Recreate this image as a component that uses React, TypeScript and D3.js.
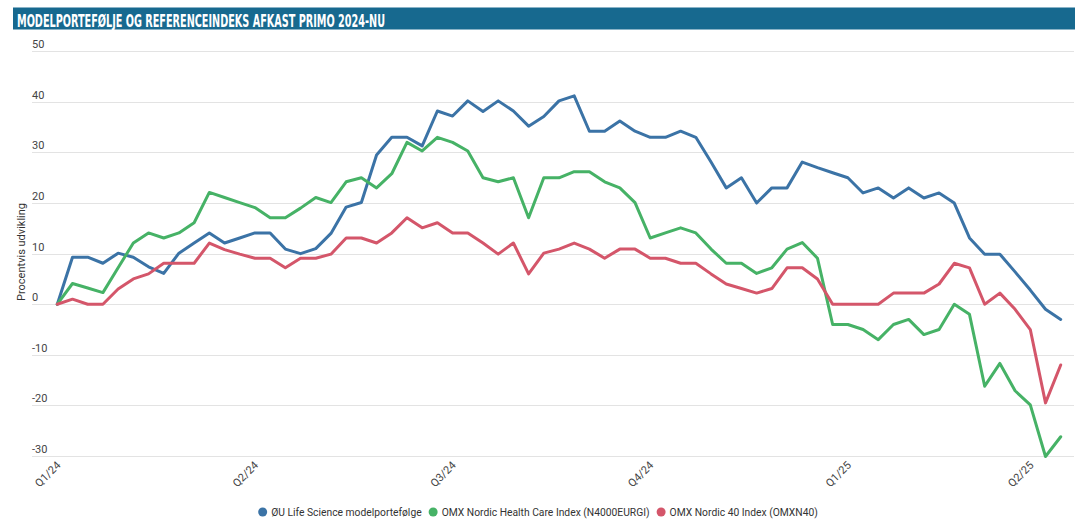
import { useEffect, useRef } from "react";
import * as d3 from "d3";

const W = 1088;
const H = 532;

const title = "MODELPORTEFØLJE OG REFERENCEINDEKS AFKAST PRIMO 2024-NU";
const yTitle = "Procentvis udvikling";

const seriesNames = [
  "ØU Life Science modelportefølge",
  "OMX Nordic Health Care Index (N4000EURGI)",
  "OMX Nordic 40 Index (OMXN40)",
];
const seriesColors = ["#3b73a6", "#46b266", "#d4566a"];

// weekly values, % since start of 2024
const lifeScience = [
  0, 9.3, 9.3, 8.1, 10.1, 9.3, 7.4, 6.1, 10.1, 12.1, 14.1, 12.1, 13.1, 14.1, 14.1, 10.9, 10,
  11, 14, 19.2, 20.1, 29.5, 33, 33, 31.3, 38.2, 37.2, 40.2, 38.1, 40.2, 38.2, 35.2, 37.1, 40.2,
  41.2, 34.2, 34.2, 36.2, 34.2, 33, 33, 34.2, 33, 28.1, 23, 25, 20, 23, 23, 28.1,
  27, 26, 25, 22, 23, 21, 23, 21, 22, 20, 13.1, 9.9, 9.9, 6.4, 2.8, -1, -3,
];
const healthCare = [
  0, 4.1, 3.2, 2.3, 7.2, 12.1, 14.1, 13.1, 14.1, 16.1, 22.1, 21.1, 20.1, 19.1, 17.1, 17.1, 19,
  21.1, 20.1, 24.2, 25, 23, 25.8, 32, 30.3, 33, 32, 30.3, 25, 24.2, 25, 17.1, 25, 25,
  26.2, 26.2, 24.2, 23, 20.1, 13.1, 14.1, 15.1, 14.1, 10.9, 8.1, 8.1, 6.1, 7.2, 10.9, 12.2,
  9.1, -4, -4, -5, -7, -4, -3, -6, -5, 0, -2, -16.2, -11.7, -17.1, -19.9, -30.1, -26.2,
];
const nordic40 = [
  0, 1, 0, 0, 3, 5, 6, 8.1, 8.1, 8.1, 12.1, 10.8, 9.9, 9.1, 9.1, 7.2, 9.1,
  9.1, 9.9, 13.1, 13.1, 12.1, 14.1, 17.1, 15.1, 16.1, 14.1, 14.1, 12.1, 9.9, 12.1, 6, 10.1, 10.9,
  12.1, 10.9, 9.1, 10.9, 10.9, 9.1, 9.1, 8.1, 8.1, 6, 4, 3.1, 2.2, 3.1, 7.2, 7.2,
  5, 0, 0, 0, 0, 2.2, 2.2, 2.2, 4, 8.1, 7.2, 0, 2.2, -1, -5, -19.5, -12,
];

const quarterLabels = ["Q1/24", "Q2/24", "Q3/24", "Q4/24", "Q1/25", "Q2/25"];
const quarterWeeks = [0, 13, 26, 39, 52, 64];

const FONT = "Roboto, 'Noto Sans', Arial, sans-serif";

export default function App() {
  const svgRef = useRef(null);

  useEffect(() => {
    document.body.style.margin = "0";
    const svg = d3.select(svgRef.current);
    svg.selectAll("*").remove();
    svg.attr("width", W).attr("height", H);

    svg.append("rect").attr("width", W).attr("height", H).attr("fill", "#fff");

    // title banner
    svg
      .append("rect")
      .attr("x", 13)
      .attr("y", 7.5)
      .attr("width", 1062)
      .attr("height", 22)
      .attr("fill", "#17698f");
    svg
      .append("text")
      .text(title)
      .attr("x", 17)
      .attr("y", 26.5)
      .attr("fill", "#fff")
      .attr("font-family", "'Liberation Sans Narrow', 'DejaVu Sans Condensed', sans-serif")
      .attr("font-weight", "bold")
      .attr("font-size", 17.5)
      .attr("textLength", 368)
      .attr("lengthAdjust", "spacingAndGlyphs");

    const n = lifeScience.length;
    const x = d3.scaleLinear().domain([0, n - 1]).range([57.3, 1060.7]);
    const y = d3.scaleLinear().domain([-30, 50]).range([456, 51.3]);

    // grid + y labels
    const yt = y.ticks(8);
    svg
      .append("g")
      .selectAll("line")
      .data(yt)
      .join("line")
      .attr("x1", 32)
      .attr("x2", 1074)
      .attr("y1", (d) => Math.round(y(d)) + 0.5)
      .attr("y2", (d) => Math.round(y(d)) + 0.5)
      .attr("stroke", "#e3e3e3")
      .attr("stroke-width", 1);
    svg
      .append("g")
      .selectAll("text")
      .data(yt)
      .join("text")
      .text((d) => String(d))
      .attr("x", 32)
      .attr("y", (d) => y(d) - 3)
      .attr("fill", "#444")
      .attr("font-family", FONT)
      .attr("font-size", 11);

    svg
      .append("text")
      .text(yTitle)
      .attr("transform", `translate(25,252) rotate(-90)`)
      .attr("text-anchor", "middle")
      .attr("fill", "#333")
      .attr("font-family", FONT)
      .attr("font-size", 11);

    // x labels
    svg
      .append("g")
      .selectAll("text")
      .data(quarterWeeks)
      .join("text")
      .text((d, i) => quarterLabels[i])
      .attr("transform", (d) => `translate(${x(d) + 4},${466}) rotate(-45)`)
      .attr("text-anchor", "end")
      .attr("fill", "#444")
      .attr("font-family", FONT)
      .attr("font-size", 11);

    // lines
    const line = d3
      .line<number>()
      .x((d, i) => x(i))
      .y((d) => y(d));
    const all = [lifeScience, healthCare, nordic40];
    svg
      .append("g")
      .selectAll("path")
      .data(all)
      .join("path")
      .attr("d", (d) => line(d))
      .attr("fill", "none")
      .attr("stroke", (d, i) => seriesColors[i])
      .attr("stroke-width", 3)
      .attr("stroke-linejoin", "round")
      .attr("stroke-linecap", "round");

    // legend
    const lg = svg.append("g");
    let cx = 0;
    seriesNames.forEach((name, i) => {
      const it = lg.append("g").attr("transform", `translate(${cx},0)`);
      it.append("circle").attr("cx", 4.5).attr("cy", 0).attr("r", 4.5).attr("fill", seriesColors[i]);
      const t = it
        .append("text")
        .text(name)
        .attr("x", 13)
        .attr("y", 3.7)
        .attr("fill", "#333")
        .attr("font-family", FONT)
        .attr("font-size", 10.3);
      const w = (t.node() as SVGTextElement).getComputedTextLength();
      cx += 13 + w + 7;
    });
    const total = cx - 7;
    lg.attr("transform", `translate(${538 - total / 2},512)`);
  }, []);

  return (
    <div>
      <svg ref={svgRef} style={{ display: "block" }} />
    </div>
  );
}
